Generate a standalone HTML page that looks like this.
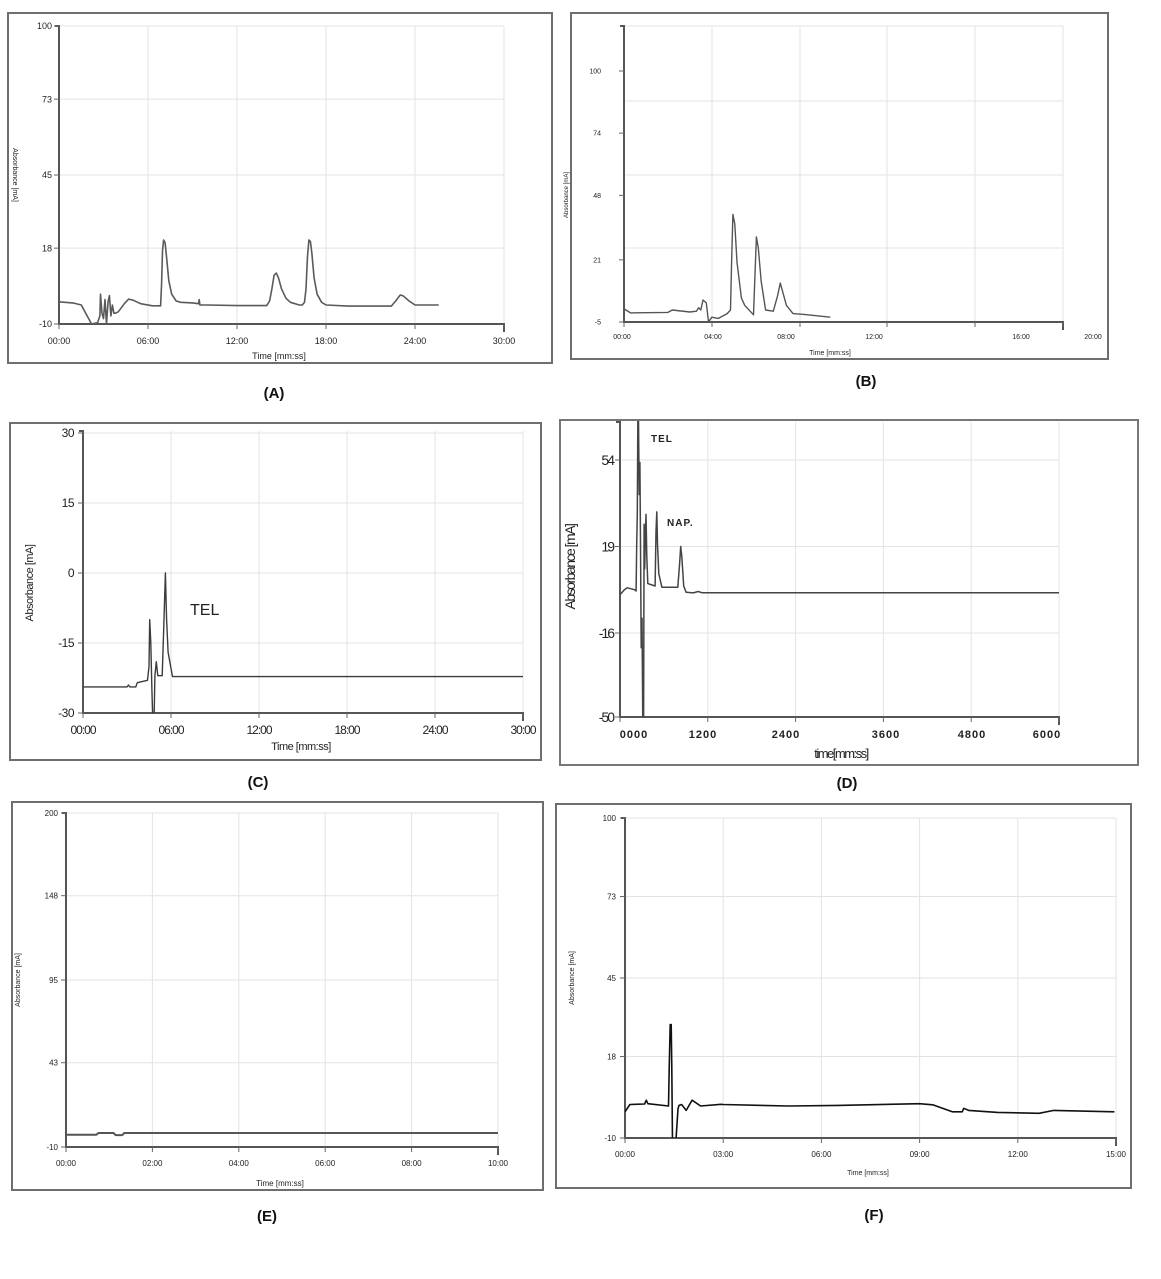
<!DOCTYPE html>
<html><head><meta charset="utf-8"><title>Chromatograms</title>
<style>
html,body{margin:0;padding:0;background:#fff;}
svg{display:block;}
text{font-family:"Liberation Sans",sans-serif;}
</style></head>
<body>
<svg id="chart" xmlns="http://www.w3.org/2000/svg" width="1161" height="1279" viewBox="0 0 1161 1279"></svg>
<script>
// ---------- DATA (time, absorbance) ----------
const aTime = [0,1,1.5,1.8,2.2,2.6,2.76,2.8,2.9,3.0,3.1,3.2,3.3,3.4,3.5,3.6,3.7,3.8,4.0,4.4,4.7,5.0,5.5,6.3,6.85,6.92,6.98,7.05,7.15,7.25,7.4,7.6,7.9,8.2,9.0,9.4,9.45,9.5,10,12,14,14.2,14.35,14.5,14.65,14.8,15.0,15.3,15.6,16.2,16.4,16.55,16.65,16.75,16.85,16.95,17.05,17.2,17.4,17.7,18.0,19.5,22.4,22.7,23.0,23.2,23.6,24.0,25.6];
const aAbs  = [-1.8,-2.3,-3,-6,-10,-9.5,-7,1,-6,-8,-1,-10,-2,0.5,-7,-3,-6,-6,-5.5,-2.5,-0.8,-1.2,-2.5,-3.3,-3.3,5,17,21,20,15,6,1,-1.5,-2,-2.2,-2.5,-1,-3,-3,-3.2,-3.2,-1.5,3,8,8.8,7,3,-0.5,-2,-3,-3,-2,3,15,21,20.5,16,7,1,-2,-3,-3.4,-3.4,-1.5,0.7,0.4,-1.5,-3,-3];
const bTime = [0,0.3,2.0,2.2,3.0,3.3,3.4,3.5,3.6,3.75,3.85,4.0,4.3,4.7,4.85,4.9,4.96,5.05,5.15,5.35,5.5,5.9,5.97,6.03,6.12,6.25,6.45,6.8,7.0,7.12,7.25,7.4,7.7,8.2,9.4];
const bAbs  = [0.5,-1.2,-1,0,-0.8,-0.5,1,0,4.2,3,-5,-3,-3.5,-1.5,0,20,40,36,20,5,2,-2,15,30.6,26,12,0,-0.5,6,11.3,7,2,-1.5,-1.8,-3];
const cTime = [0,3.0,3.1,3.2,3.6,3.7,4.4,4.5,4.55,4.62,4.7,4.75,4.85,4.9,5.0,5.1,5.4,5.5,5.62,5.7,5.8,6.1,30];
const cAbs  = [-24.4,-24.4,-24,-24.4,-24.4,-23.5,-23,-20,-10,-15,-25,-31,-31,-22,-19,-22,-22,-12,0,-10,-17,-22.2,-22.2];
const dTime = [0,60,100,200,220,228,236,245,252,262,272,280,290,300,312,322,330,338,346,356,366,380,480,492,503,512,530,572,790,815,830,845,870,903,1000,1067,1120,6000];
const dAbs  = [-0.5,1.5,2.3,1.5,1,20,32,75,75,40,53,20,-22,-10,-52,-52,28,10,22,32,15,4,3,25,33,20,8,2.5,2.5,12,19,15,3,0.5,0.2,0.8,0.3,0.3];
const eTime = [0,0.7,0.75,1.1,1.15,1.3,1.35,10];
const eAbs  = [-2.3,-2.3,-1.2,-1.2,-2.5,-2.5,-1.2,-1.2];
const fTime = [0,0.15,0.6,0.65,0.7,1.33,1.35,1.38,1.41,1.43,1.45,1.55,1.62,1.65,1.73,1.87,2.05,2.31,2.94,3.0,5,6.5,9,9.4,10,10.3,10.35,10.5,11.39,12.65,13.1,14.95];
const fAbs  = [-1,1.5,1.7,3,1.8,1.0,14,29,29,14,-12,-12,0,1.2,1.5,-0.5,3,1,1.6,1.5,1,1.2,1.8,1.4,-1,-1,0.2,-0.5,-1.2,-1.5,-0.5,-1];

const aXTicks=[0,6,12,18,24,30], aXLabels=["00:00","06:00","12:00","18:00","24:00","30:00"];
const aYTicks=[100,73,45,18,-10];
const bXTicks=[0,4,8,12,16,20], bXLabels=["00:00","04:00","08:00","12:00","16:00","20:00"];
const bYTicks=[100,74,48,21,-5];
const cXTicks=[0,6,12,18,24,30], cXLabels=["00:00","06:00","12:00","18:00","24:00","30:00"];
const cYTicks=[30,15,0,-15,-30];
const dXTicks=[0,1200,2400,3600,4800,6000], dXLabels=["0000","1200","2400","3600","4800","6000"];
const dYTicks=[54,19,-16,-50];
const eXTicks=[0,2,4,6,8,10], eXLabels=["00:00","02:00","04:00","06:00","08:00","10:00"];
const eYTicks=[200,148,95,43,-10];
const fXTicks=[0,3,6,9,12,15], fXLabels=["00:00","03:00","06:00","09:00","12:00","15:00"];
const fYTicks=[100,73,45,18,-10];

// ---------- DRAWING ----------
const NS="http://www.w3.org/2000/svg";
const svg=document.getElementById('chart');
function mk(tag,attrs,parent){const e=document.createElementNS(NS,tag);for(const k in attrs)e.setAttribute(k,attrs[k]);(parent||svg).appendChild(e);return e;}

function panel(c, xs, ys, xt, xl, yt){
  const g=mk('g',{});
  
  
  const sx=t=>c.x0+(t-c.xMin)/(c.xMax-c.xMin)*(c.x1-c.x0);
  const sy=v=>c.yMinPx-(v-c.yMin)/(c.yMax-c.yMin)*(c.yMinPx-c.yMaxPx);
  const fr=mk('rect',{x:c.frame[0],y:c.frame[1],width:c.frame[2]-c.frame[0],height:c.frame[3]-c.frame[1],fill:'none',stroke:c.frameColor||'#6e6e6e','stroke-width':c.frameW||2},g);
  
  
  const gx=c.gridX||xt.map(sx);
  gx.forEach((px,i)=>{ if(i===0)return;
    const l=mk('line',{x1:px,x2:px,y1:c.axisTop,y2:c.axisBot,stroke:'#e3e3e3','stroke-width':1},g);
    
    
  });
  const gy=c.gridY||yt.map(sy);
  gy.forEach(py=>{ if(Math.abs(py-c.axisBot)<2)return;
    const l=mk('line',{x1:c.x0,x2:c.x1,y1:py,y2:py,stroke:'#e3e3e3','stroke-width':1},g);
    
    
  });
  const ax=mk('path',{d:`M${c.x0-4},${c.axisTop} H${c.x0} V${c.axisBot} H${c.x1} V${c.axisBot+8}`,fill:'none',stroke:c.axisColor||'#555','stroke-width':2},g);
  
  
  gx.forEach(px=>{
    const t=mk('line',{x1:px,x2:px,y1:c.axisBot,y2:c.axisBot+5,stroke:'#666','stroke-width':1},g);
    
    
  });
  yt.forEach(v=>{
    const t=mk('line',{x1:c.x0-5,x2:c.x0,y1:sy(v),y2:sy(v),stroke:'#666','stroke-width':1},g);
    
    
  });
  xt.forEach((v,i)=>{
    const px=c.xLabelPx?c.xLabelPx[i]:sx(v);
    const t=mk('text',{x:px,y:c.xLabelY,'text-anchor':'middle','font-size':c.xfs,'font-weight':c.xfw||'normal',fill:'#222','letter-spacing':c.xls||0},g);
    t.textContent=xl[i];
    
    
  });
  yt.forEach(v=>{
    const t=mk('text',{x:c.yLabelX,y:sy(v)+c.yfs*0.35,'text-anchor':'end','font-size':c.yfs,fill:'#222','letter-spacing':c.yls||0},g);
    t.textContent=String(v);
    
    
  });
  const xtit=mk('text',{x:c.xTitle[0],y:c.xTitle[1],'text-anchor':'middle','font-size':c.xtfs,fill:'#222','letter-spacing':c.xtls||0},g);
  xtit.textContent=c.xTitleText;
  
  
  const ytit=mk('text',{x:0,y:0,'text-anchor':'middle','font-size':c.ytfs,fill:'#222','letter-spacing':c.ytls||0,transform:`translate(${c.yTitle[0]},${c.yTitle[1]}) rotate(${c.yRot||-90})`},g);
  ytit.textContent=c.yTitleText;
  
  
  const cp=mk('clipPath',{id:'clip-'+c.id},g);
  mk('rect',{x:c.x0,y:c.clipTop,width:c.x1-c.x0,height:c.axisBot-c.clipTop},cp);
  let d='';
  xs.forEach((t,i)=>{d+=(i?'L':'M')+sx(t).toFixed(1)+','+sy(ys[i]).toFixed(1);});
  const p=mk('path',{d:d,fill:'none',stroke:c.lineColor,'stroke-width':c.lineW,'stroke-linejoin':'round','clip-path':`url(#clip-${c.id})`},g);
  
  
  const pl=mk('text',{x:c.letter[0],y:c.letter[1],'text-anchor':'middle','font-size':15,'font-weight':'bold',fill:'#111'},g);
  pl.textContent='('+c.id.toUpperCase()+')';
  
  
  return g;
}

panel({id:'a',frame:[8,13,552,363],x0:59,x1:504,xMin:0,xMax:30,yMin:-10,yMax:100,yMinPx:324,yMaxPx:26,axisTop:26,axisBot:324,clipTop:26,
  xLabelY:344,xfs:9,yLabelX:52,yfs:9,xTitle:[279,359],xtfs:9,xTitleText:'Time [mm:ss]',yTitle:[13,175],ytfs:7,yRot:90,yTitleText:'Absorbance [mA]',
  lineColor:'#5a5a5a',lineW:1.6,letter:[274,398]},aTime,aAbs,aXTicks,aXLabels,aYTicks);

panel({id:'b',frame:[571,13,1108,359],x0:624,x1:1063,xMin:0,xMax:20,yMin:-5,yMax:100,yMinPx:322,yMaxPx:71,axisTop:26,axisBot:322,clipTop:26,
  gridX:[624,712,800,887,975,1063],gridY:[26,101,175,248],xLabelPx:[622,713,786,874,1021,1093],
  xLabelY:339,xfs:7,yLabelX:601,yfs:7,xTitle:[830,355],xtfs:7,xTitleText:'Time [mm:ss]',yTitle:[568,195],ytfs:6,yTitleText:'Absorbance [mA]',
  lineColor:'#555',lineW:1.4,letter:[866,386]},bTime,bAbs,bXTicks,bXLabels,bYTicks);

panel({id:'c',frame:[10,423,541,760],x0:83,x1:523,xMin:0,xMax:30,yMin:-30,yMax:30,yMinPx:713,yMaxPx:433,axisTop:431,axisBot:713,clipTop:431,
  xLabelY:734,xfs:12,xls:-1,yLabelX:74,yfs:12,yls:-0.5,xTitle:[301,750],xtfs:11,xtls:-0.5,xTitleText:'Time [mm:ss]',yTitle:[33,583],ytfs:11,ytls:-0.5,yTitleText:'Absorbance [mA]',
  lineColor:'#3c3c3c',lineW:1.4,letter:[258,787]},cTime,cAbs,cXTicks,cXLabels,cYTicks);

panel({id:'d',frame:[560,420,1138,765],frameColor:'#777',x0:620,x1:1059,xMin:0,xMax:6000,yMin:-50,yMax:54,yMinPx:717,yMaxPx:460,axisTop:422,axisBot:717,clipTop:421,
  xLabelPx:[634,703,786,886,972,1047],xLabelY:738,xfs:11,xfw:'bold',xls:1,yLabelX:613,yfs:14,yls:-2,xTitle:[841,758],xtfs:13,xtls:-1.5,xTitleText:'time[mm:ss]',yTitle:[575,567],ytfs:14,ytls:-1.5,yTitleText:'Absorbance [mA]',
  lineColor:'#444',lineW:1.5,letter:[847,788]},dTime,dAbs,dXTicks,dXLabels,dYTicks);

panel({id:'e',frame:[12,802,543,1190],x0:66,x1:498,xMin:0,xMax:10,yMin:-10,yMax:200,yMinPx:1147,yMaxPx:813,axisTop:813,axisBot:1147,clipTop:813,
  xLabelY:1166,xfs:8,yLabelX:58,yfs:8,xTitle:[280,1186],xtfs:8,xTitleText:'Time [mm:ss]',yTitle:[20,980],ytfs:7,yTitleText:'Absorbance [mA]',
  lineColor:'#555',lineW:2,letter:[267,1221]},eTime,eAbs,eXTicks,eXLabels,eYTicks);

panel({id:'f',frame:[556,804,1131,1188],x0:625,x1:1116,xMin:0,xMax:15,yMin:-10,yMax:100,yMinPx:1138,yMaxPx:818,axisTop:818,axisBot:1138,clipTop:818,
  xLabelY:1157,xfs:8,yLabelX:616,yfs:8,xTitle:[868,1175],xtfs:7,xTitleText:'Time [mm:ss]',yTitle:[574,978],ytfs:7,yTitleText:'Absorbance [mA]',
  lineColor:'#111',lineW:1.6,letter:[874,1220]},fTime,fAbs,fXTicks,fXLabels,fYTicks);

const tel1=mk('text',{x:190,y:615,'font-size':16,fill:'#222','font-family':'"Liberation Serif",serif'});
tel1.textContent='TEL';


const tel2=mk('text',{x:651,y:442,'font-size':10,'font-weight':'bold',fill:'#222','letter-spacing':1});
tel2.textContent='TEL';


const nap=mk('text',{x:667,y:526,'font-size':10,'font-weight':'bold',fill:'#222','letter-spacing':1});
nap.textContent='NAP.';


</script>
</body></html>
